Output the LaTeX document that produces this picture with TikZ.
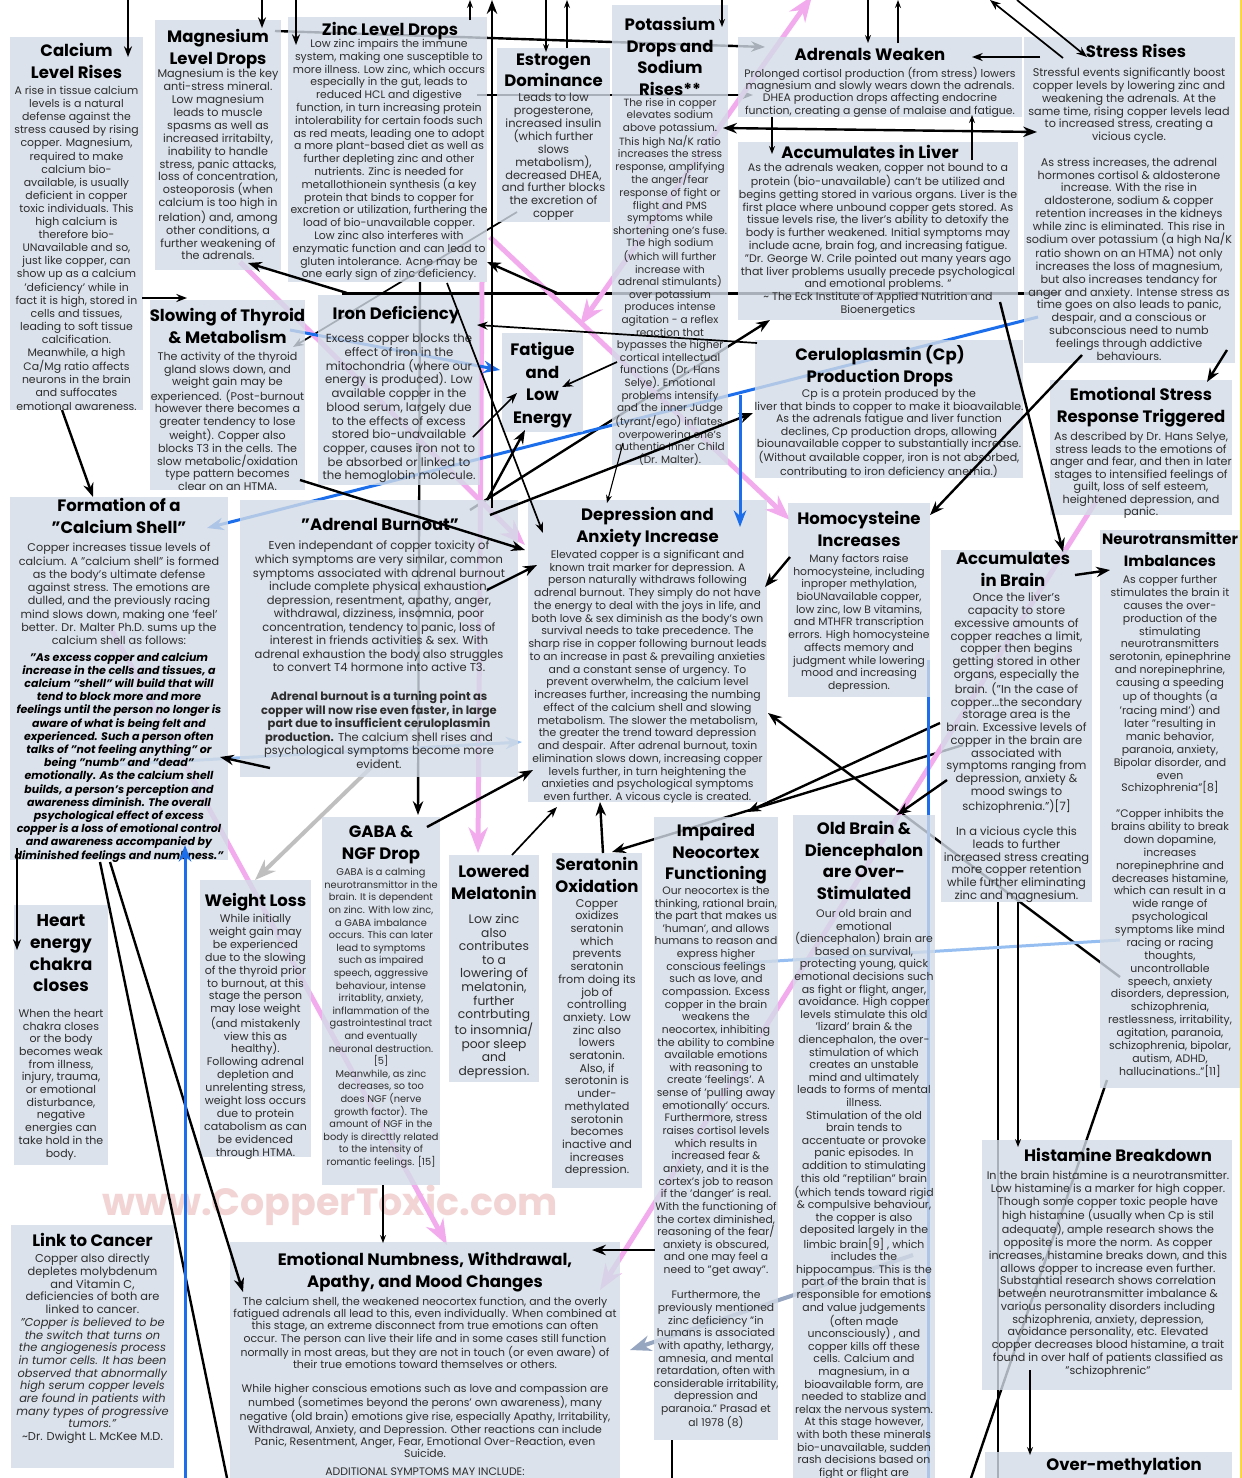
\documentclass[tikz,border=0pt]{standalone}
\usepackage{fontspec}
\setmainfont{Poppins}
\usepackage{xcolor}
\usetikzlibrary{positioning, arrows.meta, backgrounds}

\definecolor{boxblue}{RGB}{210,219,230}
\definecolor{textgray}{RGB}{45,45,45}
\definecolor{pinkline}{RGB}{242,172,238}
\definecolor{blueline}{RGB}{28,110,235}
\definecolor{paleblue}{RGB}{150,190,240}
\definecolor{slate}{RGB}{150,165,192}
\definecolor{wmark}{RGB}{242,212,212}
\definecolor{edgeyellow}{RGB}{250,215,60}

\begin{document}
\begin{tikzpicture}[
  x=1pt, y=-1pt,
  >={Stealth},
  box/.style={fill=boxblue, fill opacity=0.8, inner sep=0pt, anchor=north west},
  ttl/.style={font=\bfseries\fontsize{16.5}{21.5}\selectfont, align=center, inner sep=0pt, anchor=north, yshift=-3pt, execute at begin node=\strut},
  txt/.style args={#1/#2}{font=\fontsize{#1}{#2}\selectfont, text=textgray, align=center, inner sep=0pt, anchor=north, yshift=-3pt, execute at begin node=\strut},
  txt/.default=10.9/12.8,
  lnk/.style={->, line width=2.4pt},
  lnkm/.style={->, line width=1.7pt},
  lnkt/.style={->, line width=1.1pt},
  pinklnk/.style={->, draw=pinkline, line width=5pt},
  bluelnk/.style={->, draw=blueline, line width=3pt},
  palelnk/.style={draw=paleblue, line width=3pt},
  graylnk/.style={->, draw=black!25, line width=4pt},
  slatelnk/.style={->, draw=slate, line width=4pt},
]
\useasboundingbox (0,0) rectangle (1242,1478);
\clip (0,0) rectangle (1242,1478);

% Boxes
\node[box, minimum width=133pt, minimum height=373pt] (calcium) at (10,37) {};
\node[box, minimum width=126pt, minimum height=250pt] (magnesium) at (155,20) {};
\node[box, minimum width=199pt, minimum height=265pt] (zinc) at (288,17) {};
\node[box, minimum width=113pt, minimum height=174pt] (estrogen) at (497,48) {};
\node[box, minimum width=116pt, minimum height=460pt] (potassium) at (612,5) {};
\node[box, minimum width=284pt, minimum height=80pt] (adrenals) at (738,37) {};
\node[box, minimum width=280pt, minimum height=178pt] (liver) at (738,142) {};
\node[box, minimum width=211pt, minimum height=326pt] (stress) at (1024,37) {};
\node[box, minimum width=268pt, minimum height=138pt] (cerul) at (755,340) {};
\node[box, minimum width=182pt, minimum height=135pt] (emostress) at (1050,380) {};
\node[box, minimum width=155pt, minimum height=190pt] (thyroid) at (150,300) {};
\node[box, minimum width=162pt, minimum height=190pt] (iron) at (318,295) {};
\node[box, minimum width=81pt, minimum height=99pt] (fatigue) at (502,333) {};
\node[box, minimum width=218pt, minimum height=363pt] (shell) at (10,497) {};
\node[box, minimum width=278pt, minimum height=277pt] (burnout) at (240,500) {};
\node[box, minimum width=239pt, minimum height=302pt] (depr) at (528,500) {};
\node[box, minimum width=142pt, minimum height=194pt] (homo) at (788,503) {};
\node[box, minimum width=151pt, minimum height=352pt] (brain) at (941,550) {};
\node[box, minimum width=140pt, minimum height=558pt] (neuro) at (1100,530) {};
\node[box, minimum width=118pt, minimum height=368pt] (gaba) at (322,817) {};
\node[box, minimum width=90pt, minimum height=227pt] (melatonin) at (449,855) {};
\node[box, minimum width=90pt, minimum height=335pt] (seratonin) at (552,853) {};
\node[box, minimum width=124pt, minimum height=623pt] (neocortex) at (654,817) {};
\node[box, minimum width=142pt, minimum height=680pt] (oldbrain) at (793,815) {};
\node[box, minimum width=94pt, minimum height=260pt] (heart) at (14,905) {};
\node[box, minimum width=111pt, minimum height=277pt] (weight) at (200,880) {};
\node[box, minimum width=163pt, minimum height=243pt] (cancer) at (11,1225) {};
\node[box, minimum width=390pt, minimum height=250pt] (numb) at (230,1242) {};
\node[box, minimum width=250pt, minimum height=250pt] (histamine) at (982,1140) {};
\node[box, minimum width=247pt, minimum height=40pt] (overmeth) at (985,1452) {};

% Titles and texts
\node[ttl] (calciumT) at (76.5,40.5) {Calcium\\Level Rises};
\node[txt=10.9/13.1] (calciumB) at (76.5,83) {A rise in tissue calcium\\levels is a natural\\defense against the\\stress caused by rising\\copper.  Magnesium,\\required to make\\calcium bio-\\available, is usually\\deficient in copper\\toxic individuals.  This\\high calcium is\\therefore bio-\\UNavailable and so,\\just like copper, can\\show up as a calcium\\'deficiency' while in\\fact it is high, stored in\\cells and tissues,\\leading to soft tissue\\calcification.\\Meanwhile, a high\\Ca/Mg ratio affects\\neurons in the brain\\and suffocates\\emotional awareness.};

\node[ttl] (magnesiumT) at (218,26.5) {Magnesium\\Level Drops};
\node[txt=11.2/12.9] (magnesiumB) at (218,66) {Magnesium is the key\\anti-stress mineral.\\Low magnesium\\leads to muscle\\spasms as well as\\increased irritabilty,\\inability to handle\\stress, panic attacks,\\loss of concentration,\\osteoporosis (when\\calcium is too high in\\relation) and, among\\other conditions, a\\further weakening of\\the adrenals.};

\node[ttl] (zincT) at (390,17.5) {Zinc Level Drops};
\node[txt=10.85/12.8] (zincB) at (389,36) {Low zinc impairs the immune\\system, making one susceptible to\\more illness.  Low zinc, which occurs\\especially in the gut, leads to\\reduced HCL and digestive\\function, in turn increasing protein\\intolerability for certain foods such\\as red meats, leading one to adopt\\a more plant-based diet as well as\\further depleting zinc and other\\nutrients. Zinc is needed for\\metallothionein synthesis (a key\\protein that binds to copper for\\excretion or utilization, furthering the\\load of bio-unavailable copper.\\Low zinc also interferes with\\enzymatic function and can lead to\\gluten intolerance. Acne may be\\one early sign of zinc deficiency.};

\node[ttl] (estrogenT) at (553.5,50.5) {Estrogen\\Dominance};
\node[txt=11.4/12.9] (estrogenB) at (553.5,90) {Leads to low\\progesterone,\\increased insulin\\(which further\\slows\\metabolism),\\decreased DHEA,\\and further blocks\\the excretion of\\copper};

\node[ttl] (potassiumT) at (670,14.5) {Potassium\\Drops and\\Sodium\\Rises**};
\node[txt=10.5/12.6] (potassiumB) at (670,95) {The rise in copper\\elevates sodium\\above potassium.\\This high Na/K ratio\\increases the stress\\response, amplifying\\the anger/fear\\response of fight or\\flight and PMS\\symptoms while\\shortening one's fuse.\\The high sodium\\(which will further\\increase with\\adrenal stimulants)\\over potassium\\produces intense\\agitation - a reflex\\reaction that\\bypasses the higher\\cortical intellectual\\functions (Dr. Hans\\Selye).  Emotional\\problems intensify\\and the inner Judge\\(tyrant/ego) inflates,\\overpowering one's\\authentic Inner Child\\(Dr. Malter).};

\node[ttl] (adrenalsT) at (870,42.5) {Adrenals Weaken};
\node[txt=10.85/12.3] (adrenalsB) at (880,64) {Prolonged cortisol production (from stress) lowers\\magnesium and slowly wears down the adrenals.\\DHEA production drops affecting endocrine\\function, creating a gense of malaise and fatigue.};

\node[ttl] (liverT) at (870,140.5) {Accumulates in Liver};
\node[txt=11/12.8] (liverB) at (878,160) {As the adrenals weaken, copper not bound to a\\protein (bio-unavailable) can't be utilized and\\begins getting stored in various organs. Liver is the\\first place where unbound copper gets stored. As\\tissue levels rise, the liver's ability to detoxify the\\body is further weakened.  Initial symptoms may\\include acne, brain fog, and increasing fatigue.\\"Dr. George W. Crile pointed out many years ago\\that liver problems usually precede psychological\\and emotional problems. "\\\textasciitilde{} The Eck Institute of Applied Nutrition and\\Bioenergetics};

\node[ttl] (stressT) at (1136,39.5) {Stress Rises};
\node[txt=11.2/12.8] (stressB) at (1129,65) {Stressful events significantly boost\\copper levels by lowering zinc and\\weakening the adrenals.  At the\\same time, rising copper levels lead\\to increased stress, creating a\\vicious cycle.\\[12.8pt]As stress increases, the adrenal\\hormones cortisol \& aldosterone\\increase. With the rise in\\aldosterone, sodium \& copper\\retention increases in the kidneys\\while zinc is eliminated. This rise in\\sodium over potassium (a high Na/K\\ratio shown on an HTMA)  not only\\increases the loss of magnesium,\\but also increases tendancy for\\anger and anxiety.  Intense stress as\\time goes on also leads to panic,\\despair, and a conscious or\\subconscious need to numb\\feelings through addictive\\behaviours.};

\node[ttl] (cerulT) at (880,342.5) {Ceruloplasmin (Cp)\\Production Drops};
\node[txt=11/12.5] (cerulB) at (889,386) {Cp is a protein produced by the\\liver that binds to copper to make it bioavailable.\\As the adrenals fatigue and liver function\\declines, Cp production drops, allowing\\biounavailable copper to substantially increase.\\(Without available copper, iron is not absorbed,\\contributing to iron deficiency anemia.)};

\node[ttl] (emostressT) at (1141,384.5) {Emotional Stress\\Response Triggered};
\node[txt=11.2/12.5] (emostressB) at (1141,429) {As described by Dr. Hans Selye,\\stress leads to the emotions of\\anger and fear, and then in later\\stages to intensified feelings of\\guilt, loss of self esteem,\\heightened depression, and\\panic.};

\node[ttl] (thyroidT) at (227.5,305.5) {Slowing of Thyroid\\\& Metabolism};
\node[txt=11.1/12.6] (thyroidB) at (227.5,349) {The activity of the thyroid\\gland slows down, and\\weight gain may be\\experienced. (Post-burnout\\however there becomes a\\greater tendency to lose\\weight). Copper also\\blocks T3 in the cells. The\\slow metabolic/oxidation\\type pattern becomes\\clear on an HTMA.};

\node[ttl] (ironT) at (396,301.5) {Iron  Deficiency};
\node[txt=11.7/13.7] (ironB) at (399,331) {Excess copper blocks the\\effect of iron in the\\mitochondria (where our\\energy is produced). Low\\available copper in the\\blood serum, largely due\\to the effects of excess\\stored bio-unavailable\\copper, causes iron not to\\be absorbed or linked to\\the hemoglobin molecule.};

\node[ttl, font=\bfseries\fontsize{16.5}{22.7}\selectfont] (fatigueT) at (542.5,339) {Fatigue\\and\\Low\\Energy};

\node[ttl] (shellT) at (119,495.5) {Formation of a\\"Calcium Shell"};
\node[txt=11.2/13.3] (shellB) at (119,540) {Copper increases tissue levels of\\calcium. A "calcium shell" is formed\\as the body's ultimate defense\\against stress. The emotions are\\dulled, and the previously racing\\mind slows down, making one 'feel'\\better. Dr. Malter Ph.D. sums up the\\calcium shell as follows:};
\node[txt=11/13.2, font=\bfseries\itshape\fontsize{11}{13.2}\selectfont, text=black] (shellQ) at (119,649) {"As excess copper and calcium\\increase in the cells and tissues, a\\calcium "shell" will build that will\\tend to block more and more\\feelings until the person no longer is\\aware of what is being felt and\\experienced. Such a person often\\talks of "not feeling anything" or\\being "numb" and "dead"\\emotionally. As the calcium shell\\builds, a person's perception and\\awareness diminish.  The overall\\psychological effect of excess\\copper is a loss of emotional control\\and awareness accompanied by\\diminished feelings and numbness."};

\node[ttl] (burnoutT) at (380,512.5) {"Adrenal Burnout"};
\node[txt=11.5/13.55] (burnoutB) at (379,538) {Even independant of copper toxicity of\\which symptoms are very similar, common\\symptoms associated with adrenal burnout\\include complete physical exhaustion,\\depression, resentment, apathy, anger,\\withdrawal, dizziness, insomnia, poor\\concentration, tendency to panic, loss of\\interest in friends activities \& sex. With\\adrenal exhaustion the body also struggles\\to convert T4 hormone into active T3.};
\node[txt=11.5/13.6] (burnoutC) at (379,688) {\textbf{Adrenal burnout is a turning point as}\\\textbf{copper will now rise even faster, in large}\\\textbf{part due to insufficient ceruloplasmin}\\\textbf{production.} The calcium shell rises and\\psychological symptoms become more\\evident.};

\node[ttl] (deprT) at (647.5,504.5) {Depression and\\Anxiety Increase};
\node[txt=10.85/12.74] (deprB) at (647.5,547) {Elevated copper is a significant and\\known trait marker for depression. A\\person naturally withdraws following\\adrenal burnout. They simply do not have\\the energy to deal with the joys in life, and\\both love \& sex diminish as the body's own\\survival needs to take precedence. The\\sharp rise in copper following burnout leads\\to an increase in past \& prevailing anxieties\\and a constant sense of urgency. To\\prevent overwhelm, the calcium level\\increases further, increasing the numbing\\effect of the calcium shell and slowing\\metabolism. The slower the metabolism,\\the greater the trend toward depression\\and despair.  After adrenal burnout, toxin\\elimination slows down, increasing copper\\levels further, in turn heightening the\\anxieties and psychological symptoms\\even further. A vicous cycle is created.};

\node[ttl] (homoT) at (859,508.5) {Homocysteine\\Increases};
\node[txt=10.75/12.7] (homoB) at (859,551) {Many factors raise\\homocysteine, including\\inproper methylation,\\bioUNavailable copper,\\low zinc, low B vitamins,\\and MTHFR transcription\\errors. High homocysteine\\affects memory and\\judgment while lowering\\mood and increasing\\depression.};

\node[ttl] (brainT) at (1013,549.5) {Accumulates\\in Brain};
\node[txt=11.5/12.75] (brainB) at (1016.5,590) {Once the liver's\\capacity to store\\excessive amounts of\\copper reaches a limit,\\copper then begins\\getting stored in other\\organs, especially the\\brain.  ("In the case of\\copper...the secondary\\storage area is the\\brain. Excessive levels of\\copper in the brain are\\associated with\\symptoms ranging from\\depression, anxiety \&\\mood swings to\\schizophrenia.")[7]\\[12.75pt]In a vicious cycle this\\leads to further\\increased stress creating\\more copper retention\\while further eliminating\\zinc and magnesium.};

\node[ttl, font=\bfseries\fontsize{15}{21.5}\selectfont] (neuroT) at (1170,529.5) {Neurotransmitter\\Imbalances};
\node[txt=10.9/12.87] (neuroB) at (1170,572) {As copper further\\stimulates the brain it\\causes the over-\\production of the\\stimulating\\neurotransmitters\\serotonin, epinephrine\\and norepinephrine,\\causing a speeding\\up of thoughts (a\\'racing mind') and\\later "resulting in\\manic behavior,\\paranoia, anxiety,\\Bipolar disorder, and\\even\\Schizophrenia"[8]\\[12.87pt]"Copper inhibits the\\brains ability to break\\down dopamine,\\increases\\norepinephrine and\\decreases histamine,\\which can result in a\\wide range of\\psychological\\symptoms like mind\\racing or racing\\thoughts,\\uncontrollable\\speech, anxiety\\disorders, depression,\\schizophrenia,\\restlessness, irritability,\\agitation, paranoia,\\schizophrenia, bipolar,\\autism, ADHD,\\hallucinations.."[11]};

\node[ttl] (gabaT) at (381,822.5) {GABA \&\\NGF Drop};
\node[txt=9.8/12.6] (gabaB) at (381,865) {GABA is a calming\\neurotransmittor in the\\brain. It is dependent\\on zinc. With low zinc,\\a GABA imbalance\\occurs. This can later\\lead to symptoms\\such as impaired\\speech, aggressive\\behaviour, intense\\irritablity, anxiety,\\inflammation of the\\gastrointestinal tract\\and eventually\\neuronal destruction.\\{[5]}\\Meanwhile, as zinc\\decreases, so too\\does NGF (nerve\\growth factor). The\\amount of NGF in the\\body is directtly related\\to the intensity of\\romantic feelings. [15]};

\node[ttl] (melatoninT) at (494,862.5) {Lowered\\Melatonin};
\node[txt=12.3/13.6] (melatoninB) at (494,911) {Low zinc\\also\\contributes\\to a\\lowering of\\melatonin,\\further\\contrbuting\\to insomnia/\\poor sleep\\and\\depression.};

\node[ttl] (seratoninT) at (597,854.5) {Seratonin\\Oxidation};
\node[txt=11.2/12.7] (seratoninB) at (597,896) {Copper\\oxidizes\\seratonin\\which\\prevents\\seratonin\\from doing its\\job of\\controlling\\anxiety. Low\\zinc also\\lowers\\seratonin.\\Also, if\\serotonin is\\under-\\methylated\\serotonin\\becomes\\inactive and\\increases\\depression.};

\node[ttl] (neocortexT) at (716,820.5) {Impaired\\Neocortex\\Functioning};
\node[txt=10.75/12.64] (neocortexB) at (716,883) {Our neocortex is the\\thinking, rational brain,\\the part that makes us\\'human', and allows\\humans to reason and\\express higher\\conscious feelings\\such as love, and\\compassion. Excess\\copper in the brain\\weakens the\\neocortex, inhibiting\\the ability to combine\\available emotions\\with reasoning to\\create 'feelings'. A\\sense of 'pulling away\\emotionally' occurs.\\Furthermore, stress\\raises cortisol levels\\which results in\\increased fear \&\\anxiety, and it is the\\cortex's job to reason\\if the 'danger' is real.\\With the functioning of\\the cortex diminished,\\reasoning of the fear/\\anxiety is obscured,\\and one may feel a\\need to "get away".\\[12.64pt]Furthermore, the\\previously mentioned\\zinc deficiency "in\\humans is associated\\with apathy, lethargy,\\amnesia, and mental\\retardation, often with\\considerable irritability,\\depression and\\paranoia." Prasad et\\al 1978 (8)};

\node[ttl] (oldbrainT) at (864,818.5) {Old Brain \&\\Diencephalon\\are Over-\\Stimulated};
\node[txt=10.9/12.6] (oldbrainB) at (864,906) {Our old brain and\\emotional\\(diencephalon) brain are\\based on survival,\\protecting young, quick\\emotional decisions such\\as fight or flight, anger,\\avoidance. High copper\\levels stimulate this old\\'lizard' brain \& the\\diencephalon, the over-\\stimulation of which\\creates an unstable\\mind and ultimately\\leads to forms of mental\\illness.\\Stimulation of the old\\brain tends to\\accentuate or provoke\\panic episodes. In\\addition to stimulating\\this old "reptilian" brain\\(which tends toward rigid\\\& compulsive behaviour,\\the copper is also\\deposited largely in the\\limbic brain[9] , which\\includes the\\hippocampus. This is the\\part of the brain that is\\responsible for emotions\\and value judgements\\(often made\\unconsciously) , and\\copper kills off these\\cells. Calcium and\\magnesium, in a\\bioavailable form, are\\needed to stablize and\\relax the nervous system.\\At this stage however,\\with both these minerals\\bio-unavailable, sudden\\rash decisions based on\\fight or flight are};

\node[ttl, font=\bfseries\fontsize{17}{21.7}\selectfont] (heartT) at (61,911.5) {Heart\\energy\\chakra\\closes};
\node[txt=11/12.7] (heartB) at (61,1006) {When the heart\\chakra closes\\or the body\\becomes weak\\from illness,\\injury, trauma,\\or emotional\\disturbance,\\negative\\energies can\\take hold in the\\body.};

\node[ttl] (weightT) at (255.5,888.5) {Weight Loss};
\node[txt=11/12.9] (weightB) at (255.5,911) {While initially\\weight gain may\\be experienced\\due to the slowing\\of the thyroid prior\\to burnout, at this\\stage the person\\may lose weight\\(and mistakenly\\view this as\\healthy).\\Following adrenal\\depletion and\\unrelenting stress,\\weight loss occurs\\due to protein\\catabolism as can\\be evidenced\\through HTMA.};

\node[ttl] (cancerT) at (92.5,1228.5) {Link to Cancer};
\node[txt=11.4/12.7] (cancerB) at (92.5,1251) {Copper also directly\\depletes molybdenum\\and Vitamin C,\\deficiencies of both are\\linked to cancer.\\\textit{"Copper is believed to be}\\\textit{the switch that turns on}\\\textit{the angiogenesis process}\\\textit{in tumor cells. It has been}\\\textit{observed that abnormally}\\\textit{high serum copper levels}\\\textit{are found in patients with}\\\textit{many types of progressive}\\\textit{tumors."}\\\textasciitilde{}Dr. Dwight L. McKee M.D.};

\node[ttl] (numbT) at (425,1249.5) {Emotional Numbness, Withdrawal,\\Apathy, and Mood Changes};
\node[txt=10.9/12.2] (numbB) at (425,1294) {The calcium shell, the weakened neocortex function, and the overly\\fatigued adrenals all lead to this, even individually. When combined at\\this stage, an extreme disconnect from true emotions can often\\occur. The person can live their life and in some cases still function\\normally in most areas, but they are not in touch (or even aware) of\\their true emotions toward themselves or others.\\[12.2pt]While higher conscious emotions such as love and compassion are\\numbed (sometimes beyond the perons' own awareness), many\\negative (old brain) emotions give rise, especially Apathy, Irritability,\\Withdrawal, Anxiety, and Depression.  Other reactions can include\\Panic, Resentment, Anger, Fear, Emotional Over-Reaction, even\\Suicide.\\[6pt]ADDITIONAL SYMPTOMS MAY INCLUDE:};

\node[ttl] (histamineT) at (1118,1143.5) {Histamine Breakdown};
\node[txt=11.1/12.75] (histamineB) at (1108,1168) {In the brain histamine is a neurotransmitter.\\Low histamine is a marker for high copper.\\Though some copper toxic people have\\high histamine (usually when Cp is stil\\adequate), ample research shows the\\opposite is more the norm. As copper\\increases, histamine breaks down, and this\\allows copper to increase even further.\\Substantial research shows correlation\\between neurotransmitter imbalance \&\\various personality disorders including\\schizophrenia, anxiety, depression,\\avoidance personality, etc. Elevated\\copper decreases blood histamine, a trait\\found in over half of patients classified as\\"schizophrenic"};

\node[ttl] (overmethT) at (1124,1452.5) {Over-methylation};

% Ends beyond the picture edge
\coordinate (upCa) at (128,0);
\coordinate (upMg) at (262,0);
\coordinate (upZn) at (296,0);
\coordinate (upZnB) at (470,0);
\coordinate (upBurn) at (492,0);
\coordinate (upEsA) at (546,0);
\coordinate (upEsB) at (567,0);
\coordinate (upK) at (722,0);
\coordinate (upAdA) at (868,0);
\coordinate (upAdB) at (898,0);
\coordinate (upStA) at (990,0);
\coordinate (upStB) at (1017,0);
\coordinate (upPink) at (812,-4);
\coordinate (downShA) at (227,1478);
\coordinate (downShB) at (185,1478);
\coordinate (downNeo) at (672,1478);
\coordinate (downBr) at (998,1478);
\coordinate (downNt) at (971,1478);
\coordinate (downHo) at (928,1478);

% Front connectors
\draw[lnkm] (upCa) -- ([shift={(118,20)}]calcium.north west);
\draw[lnkm] (upMg) -- ([shift={(107,8)}]magnesium.north west);
\draw[lnkm] (upZn) -- ([shift={(8,28)}]zinc.north west);
\draw[lnkt] ([shift={(182,3)}]zinc.north west) -- (upZnB);
\draw[lnk] ([shift={(252,8)}]burnout.north west) -- (upBurn);
\draw[lnkt] (upEsA) -- ([shift={(49,4)}]estrogen.north west);
\draw[lnkt] ([shift={(70,0)}]estrogen.north west) -- (upEsB);
\draw[lnkt] (upK) -- ([shift={(110,22)}]potassium.north west);
\draw[lnkt] (upAdA) -- ([shift={(130,6)}]adrenals.north west);
\draw[lnkt] ([shift={(160,6)}]adrenals.north west) -- (upAdB);
\draw[lnkm] ([shift={(39,21)}]stress.north west) -- (upStA);
\draw[lnkm] (upStB) -- ([shift={(63,20)}]stress.north west);
\draw[lnkm] ([shift={(16,20)}]stress.north west) -- ([shift={(234,20)}]adrenals.north west);
\draw[lnk, <->] ([shift={(111,123)}]potassium.north west) -- ([shift={(13,95)}]stress.north west);
\draw[lnkt] ([shift={(34,80)}]adrenals.north west) -- ([shift={(34,12)}]liver.north west);
\draw[lnkt] ([shift={(234,18)}]liver.north west) -- ([shift={(234,78)}]adrenals.north west);
\draw[lnk] ([shift={(203,313)}]stress.north west) -- ([shift={(157,2)}]emostress.north west);
\draw[lnk] ([shift={(58,318)}]stress.north west) -- ([shift={(142,12)}]homo.north west);
\draw[lnk] ([shift={(262,160)}]liver.north west) -- ([shift={(122,2)}]brain.north west);
\draw[lnk] ([shift={(134,25)}]brain.north west) -- ([shift={(10,40)}]neuro.north west);
\draw[lnk] ([shift={(2,54)}]homo.north west) -- ([shift={(237,87)}]depr.north west);
\draw[lnkm] ([shift={(132,261)}]calcium.north west) -- ([shift={(37,-2)}]thyroid.north west);
\draw[lnk] ([shift={(52,373)}]calcium.north west) -- ([shift={(83,0)}]shell.north west);
\draw[lnk] ([shift={(29,-2)}]iron.north west) -- ([shift={(93,243)}]magnesium.north west);
\draw[lnk] ([shift={(-55,288)}]potassium.north west) -- ([shift={(199,245)}]zinc.north west);
\draw[lnkm] ([shift={(2,3)}]cerul.north west) -- ([shift={(159,30)}]iron.north west);
\draw[lnkm] ([shift={(5,357)}]potassium.north west) -- ([shift={(60,54)}]fatigue.north west);
\draw[lnkm] ([shift={(155,142)}]iron.north west) -- ([shift={(15,60)}]fatigue.north west);
\draw[lnk] ([shift={(247,0)}]burnout.north west) -- ([shift={(23,97)}]fatigue.north west);
\draw[lnk] ([shift={(250,15)}]burnout.north west) -- ([shift={(-2,73)}]cerul.north west);
\draw[lnk] ([shift={(150,180)}]thyroid.north west) -- ([shift={(-3,50)}]depr.north west);
\draw[lnk] ([shift={(247,90)}]burnout.north west) -- ([shift={(9,65)}]depr.north west);
\draw[lnkm] ([shift={(159,266)}]zinc.north west) -- ([shift={(15,33)}]depr.north west);
\draw[lnkt] ([shift={(11,438)}]potassium.north west) -- ([shift={(79,3)}]depr.north west);
\draw[lnk] ([shift={(30,268)}]burnout.north west) -- ([shift={(210,260)}]shell.north west);
\draw[lnk] ([shift={(105,10)}]gaba.north west) -- ([shift={(5,270)}]depr.north west);
\draw[lnkm] ([shift={(63,0)}]melatonin.north west) -- ([shift={(29,307)}]depr.north west);
\draw[lnk] ([shift={(51,0)}]seratonin.north west) -- ([shift={(72,302)}]depr.north west);
\draw[lnk] ([shift={(6,230)}]brain.north west) -- ([shift={(104,0)}]oldbrain.north west);
\draw[lnkm] ([shift={(7,351)}]shell.north west) -- ([shift={(3,45)}]heart.north west);
\draw[lnk] ([shift={(100,365)}]shell.north west) -- ([shift={(13,50)}]numb.north west);
\draw[lnk, -] ([shift={(90,365)}]shell.north west) -- (downShA);
\draw[bluelnk] (downShB) -- ([shift={(175,348)}]shell.north west);
\draw[lnkt] ([shift={(61,368)}]gaba.north west) -- ([shift={(153,1)}]numb.north west);
\draw[lnk] ([shift={(1,433)}]neocortex.north west) -- ([shift={(362,8)}]numb.north west);
\draw[lnkm, -] ([shift={(18,623)}]neocortex.north west) -- (downNeo);
\draw[lnkt] ([shift={(77,352)}]brain.north west) -- ([shift={(36,7)}]histamine.north west);
\draw[lnkt] ([shift={(48,230)}]histamine.north west) -- ([shift={(45,3)}]overmeth.north west);
\draw[bluelnk] ([shift={(-15,55)}]cerul.north west) -- ([shift={(212,27)}]depr.north west);
\draw[edgeyellow, line width=2pt] (1241,0) -- (1241,1478);

% Connectors that run behind the boxes
\begin{scope}[on background layer]
  \fill[white] (0,0) rectangle (1242,1478);
  \node[font=\bfseries\fontsize{38}{38}\selectfont, text=wmark] (watermark) at (330,1205) {www.CopperToxic.com};
  \draw[lnk] ([shift={(120,11)}]magnesium.north west) -- ([shift={(27,10)}]adrenals.north west);
  \draw[lnkm] ([shift={(189,78)}]zinc.north west) -- ([shift={(15,58)}]adrenals.north west);
  \draw[line width=3pt] ([shift={(36,256)}]stress.north west) -- ([shift={(24,-2)}]iron.north west);
  \draw[lnkm] ([shift={(20,164)}]estrogen.north west) -- ([shift={(143,47)}]thyroid.north west);
  \draw[lnk] ([shift={(20,447)}]neuro.north west) -- ([shift={(240,213)}]depr.north west);
  \draw[lnkt, -] ([shift={(57,352)}]brain.north west) -- (downBr);
  \draw[lnk, -] ([shift={(7,550)}]neuro.north west) -- (downNt);
  \draw[lnk] ([shift={(230,10)}]burnout.north west) -- ([shift={(32,178)}]liver.north west);
  \draw[lnk] ([shift={(-1,173)}]brain.north west) -- ([shift={(93,-5)}]neocortex.north west);
  \draw[lnk] ([shift={(22,195)}]brain.north west) -- ([shift={(60,-1)}]seratonin.north west);
  \draw[lnk] ([shift={(132,265)}]zinc.north west) -- ([shift={(96,-2)}]gaba.north west);
  % pink
  \draw[pinklnk] ([shift={(85,242)}]magnesium.north west) -- ([shift={(-3,45)}]depr.north west);
  \draw[pinklnk] ([shift={(194,265)}]zinc.north west) -- ([shift={(29,-2)}]melatonin.north west);
  \draw[pinklnk] ([shift={(202,220)}]zinc.north west) -- ([shift={(2,17)}]homo.north west);
  \draw[pinklnk, <->] ([shift={(78,-8)}]fatigue.north west) -- (upPink);
  \draw[pinklnk] ([shift={(100,130)}]shell.north west) -- ([shift={(217,3)}]numb.north west);
  \draw[pinklnk] ([shift={(50,115)}]emostress.north west) -- ([shift={(370,48)}]numb.north west);
  % blue and grey
  \draw[bluelnk] ([shift={(14,280)}]stress.north west) -- ([shift={(197,31)}]shell.north west);
  \draw[bluelnk] ([shift={(140,30)}]thyroid.north west) -- ([shift={(-2,37)}]fatigue.north west);
  \draw[palelnk] ([shift={(56,148)}]neocortex.north west) -- ([shift={(20,410)}]neuro.north west);
  \draw[bluelnk, -] ([shift={(140,157)}]homo.north west) -- (downHo);
  \draw[palelnk, ->] ([shift={(100,268)}]shell.north west) -- ([shift={(-6,242)}]depr.north west);
  \draw[graylnk] ([shift={(180,220)}]burnout.north west) -- ([shift={(55,0)}]weight.north west);
  \draw[slatelnk] ([shift={(120,440)}]oldbrain.north west) -- ([shift={(400,108)}]numb.north west);
\end{scope}
\end{tikzpicture}
\end{document}
